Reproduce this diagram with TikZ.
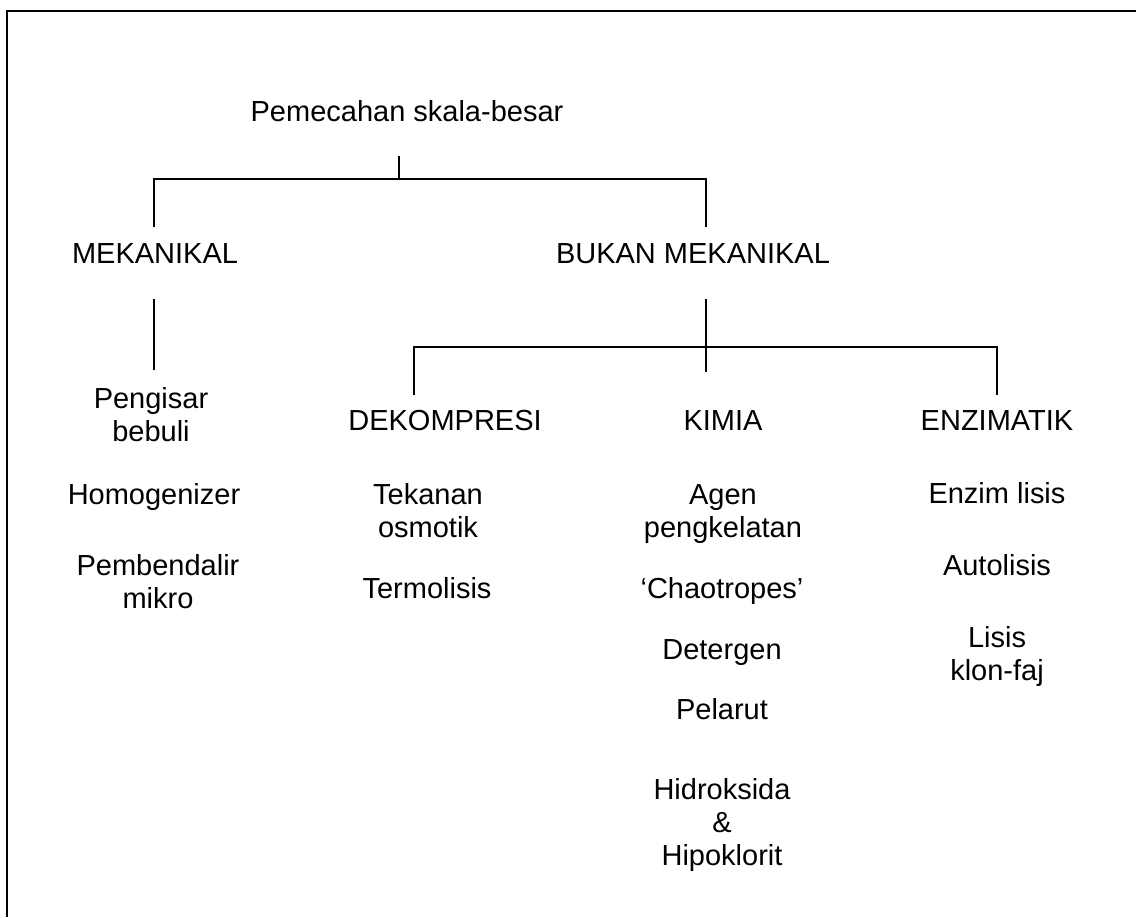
\documentclass[tikz,border=0pt]{standalone}
\usepackage{fontspec}
\setmainfont{Liberation Sans}
\usetikzlibrary{calc}

\begin{document}
\begin{tikzpicture}[x=0.5pt, y=-0.5pt,
        lbl/.style={anchor=base, align=center, inner sep=0pt, font=\fontsize{14.5}{16.5}\selectfont},
        link/.style={line width=0.8pt}]
        \useasboundingbox (0,0) rectangle (1136,917);

        % Draw the open frame
        \draw[line width=1.1pt] (7,917) -- (7,11) -- (1136,11);

        % Top levels
        \node[lbl] (root) at (407,121) {Pemecahan skala-besar};
        \node[lbl] (mek) at (155,263) {MEKANIKAL};
        \node[lbl] (bukan) at (693,263) {BUKAN MEKANIKAL};
        \node[lbl] (dek) at (445,430) {DEKOMPRESI};
        \node[lbl] (kim) at (723,430) {KIMIA};
        \node[lbl] (enz) at (997,430) {ENZIMATIK};

        % Bracket ends
        \coordinate (roottop) at (399,156);
        \coordinate (rootbar) at (399,179);
        \coordinate (mekbar) at (154,179);
        \coordinate (mektop) at (154,227);
        \coordinate (bukanbar) at (706,179);
        \coordinate (bukantop) at (706,227);
        \coordinate (mekstub) at (154,299);
        \coordinate (mekend) at (154,370);
        \coordinate (bukanstub) at (706,299);
        \coordinate (bukanend) at (706,372);
        \coordinate (dekbar) at (414,347);
        \coordinate (dektop) at (414,395);
        \coordinate (enzbar) at (997,347);
        \coordinate (enztop) at (997,395);

        % Draw the brackets
        \draw[link] (roottop) -- (rootbar);
        \draw[link] (mektop) -- (mekbar) -- (bukanbar) -- (bukantop);
        \draw[link] (mekstub) -- (mekend);
        \draw[link] (bukanstub) -- (bukanend);
        \draw[link] (dektop) -- (dekbar) -- (enzbar) -- (enztop);

        % Mechanical methods (base = last line)
        \node[lbl] (pengisar) at (151,441) {Pengisar\\bebuli};
        \node[lbl] (homog) at (154,504) {Homogenizer};
        \node[lbl] (pembendalir) at (158,608) {Pembendalir\\mikro};

        % Decompression
        \node[lbl] (tekanan) at (428,537) {Tekanan\\osmotik};
        \node[lbl] (termo) at (427,598) {Termolisis};

        % Chemical
        \node[lbl] (agen) at (723,537) {Agen\\pengkelatan};
        \node[lbl] (chao) at (722,598) {`Chaotropes'};
        \node[lbl] (deter) at (722,659) {Detergen};
        \node[lbl] (pelarut) at (722,719) {Pelarut};
        \node[lbl] (hidro) at (722,865) {Hidroksida\\\&\\Hipoklorit};

        % Enzymatic
        \node[lbl] (enzlisis) at (997,503) {Enzim lisis};
        \node[lbl] (auto) at (997,575) {Autolisis};
        \node[lbl] (klon) at (997,680) {Lisis\\klon-faj};

    \end{tikzpicture}
\end{document}
